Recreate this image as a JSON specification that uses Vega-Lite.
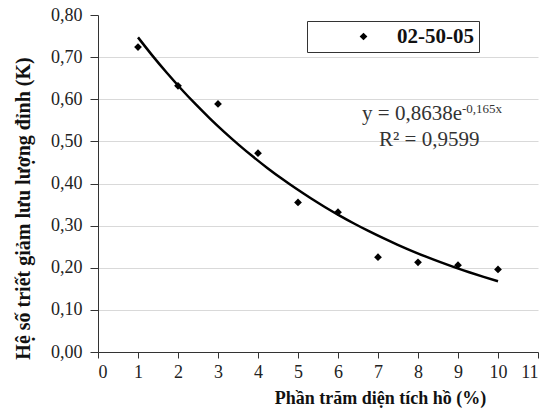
{
  "$schema": "https://vega.github.io/schema/vega-lite/v6.json",
  "width": 440,
  "height": 337,
  "autosize": {"type": "none"},
  "padding": {"left": 98, "top": 15, "right": 20, "bottom": 58},
  "background": "white",
  "config": {
    "view": {"stroke": null},
    "font": "Liberation Serif",
    "axis": {
      "labelFont": "Liberation Serif",
      "titleFont": "Liberation Serif",
      "labelColor": "#222",
      "titleColor": "#111",
      "domainColor": "#333",
      "tickColor": "#333",
      "gridColor": "#d9d9d9",
      "labelFontSize": 18,
      "titleFontSize": 18,
      "titleFontWeight": "bold",
      "labelOverlap": false
    }
  },
  "data": {
    "values": [
      {"x": 1, "k": 0.724, "series": "02-50-05"},
      {"x": 2, "k": 0.632, "series": "02-50-05"},
      {"x": 3, "k": 0.589, "series": "02-50-05"},
      {"x": 4, "k": 0.472, "series": "02-50-05"},
      {"x": 5, "k": 0.355, "series": "02-50-05"},
      {"x": 6, "k": 0.332, "series": "02-50-05"},
      {"x": 7, "k": 0.225, "series": "02-50-05"},
      {"x": 8, "k": 0.213, "series": "02-50-05"},
      {"x": 9, "k": 0.206, "series": "02-50-05"},
      {"x": 10, "k": 0.196, "series": "02-50-05"}
    ]
  },
  "layer": [
    {
      "mark": {"type": "point", "shape": "diamond", "filled": true, "size": 60, "opacity": 1},
      "encoding": {
        "x": {
          "field": "x", "type": "quantitative",
          "scale": {"domain": [0, 11], "nice": false},
          "axis": {"values": [0,1,2,3,4,5,6,7,8,9,10,11], "tickCount": 30, "format": "d", "labelOverlap": false, "grid": false, "tickSize": 6, "labelPadding": 5, "title": "Phần trăm diện tích hồ (%)", "titleX": 282, "titleY": 46, "titleAlign": "center", "titleBaseline": "middle"}
        },
        "y": {
          "field": "k", "type": "quantitative",
          "scale": {"domain": [0, 0.8], "nice": false},
          "axis": {"values": [0, 0.1, 0.2, 0.3, 0.4, 0.5, 0.6, 0.7, 0.8], "tickCount": 30, "labelExpr": "replace(format(datum.value, '.2f'), '.', ',')", "labelOverlap": false, "grid": true, "gridOpacity": {"condition": {"test": "datum.value > 0.75", "value": 0}, "value": 1}, "tickSize": 8, "labelPadding": 8, "title": "Hệ số triết giảm lưu lượng đỉnh (K)", "titleFontSize": 20, "titleX": -75, "titleY": 193, "titleAngle": 270, "titleAlign": "center", "titleBaseline": "middle"}
        },
        "color": {
          "field": "series", "type": "nominal",
          "scale": {"range": ["black"]},
          "legend": {
            "title": null,
            "orient": "none",
            "legendX": 209,
            "legendY": 6,
            "padding": 5,
            "strokeColor": "#333",
            "symbolType": "diamond",
            "symbolSize": 60,
            "symbolOffset": 41,
            "labelOffset": 23,
            "labelFont": "Liberation Serif",
            "labelFontSize": 21,
            "labelFontWeight": "bold",
            "labelColor": "#111",
            "labelExpr": "datum.label + '  '",
            "encode": {"legend": {"update": {"strokeWidth": {"value": 1.5}}}}
          }
        }
      }
    },
    {
      "transform": [
        {"regression": "k", "on": "x", "method": "exp", "extent": [1, 10]}
      ],
      "mark": {"type": "line", "color": "black", "strokeWidth": 2.5, "interpolate": "monotone"},
      "encoding": {
        "x": {"field": "x", "type": "quantitative",
          "axis": {"values": [0,1,2,3,4,5,6,7,8,9,10,11], "tickCount": 30, "format": "d", "labelOverlap": false, "grid": false, "tickSize": 6, "labelPadding": 5, "title": "Phần trăm diện tích hồ (%)", "titleX": 282, "titleY": 46, "titleAlign": "center", "titleBaseline": "middle"}},
        "y": {"field": "k", "type": "quantitative",
          "axis": {"values": [0, 0.1, 0.2, 0.3, 0.4, 0.5, 0.6, 0.7, 0.8], "tickCount": 30, "labelExpr": "replace(format(datum.value, '.2f'), '.', ',')", "labelOverlap": false, "grid": true, "gridOpacity": {"condition": {"test": "datum.value > 0.75", "value": 0}, "value": 1}, "tickSize": 8, "labelPadding": 8, "title": "Hệ số triết giảm lưu lượng đỉnh (K)", "titleFontSize": 20, "titleX": -75, "titleY": 193, "titleAngle": 270, "titleAlign": "center", "titleBaseline": "middle"}}
      }
    },
    {
      "data": {"values": [{"t": "y = 0,8638e"}]},
      "mark": {"type": "text", "align": "right", "baseline": "alphabetic", "fontSize": 21, "fontWeight": "normal", "font": "Liberation Serif", "fill": "#333"},
      "encoding": {
        "x": {"datum": 9.1, "type": "quantitative",
          "axis": {"values": [0,1,2,3,4,5,6,7,8,9,10,11], "tickCount": 30, "format": "d", "labelOverlap": false, "grid": false, "tickSize": 6, "labelPadding": 5, "title": "Phần trăm diện tích hồ (%)", "titleX": 282, "titleY": 46, "titleAlign": "center", "titleBaseline": "middle"}},
        "y": {"datum": 0.551, "type": "quantitative",
          "axis": {"values": [0, 0.1, 0.2, 0.3, 0.4, 0.5, 0.6, 0.7, 0.8], "tickCount": 30, "labelExpr": "replace(format(datum.value, '.2f'), '.', ',')", "labelOverlap": false, "grid": true, "gridOpacity": {"condition": {"test": "datum.value > 0.75", "value": 0}, "value": 1}, "tickSize": 8, "labelPadding": 8, "title": "Hệ số triết giảm lưu lượng đỉnh (K)", "titleFontSize": 20, "titleX": -75, "titleY": 193, "titleAngle": 270, "titleAlign": "center", "titleBaseline": "middle"}},
        "text": {"field": "t"}
      }
    },
    {
      "data": {"values": [{"t": "-0,165x"}]},
      "mark": {"type": "text", "align": "left", "baseline": "alphabetic", "fontSize": 13, "fontWeight": "normal", "font": "Liberation Serif", "fill": "#333"},
      "encoding": {
        "x": {"datum": 9.1, "type": "quantitative",
          "axis": {"values": [0,1,2,3,4,5,6,7,8,9,10,11], "tickCount": 30, "format": "d", "labelOverlap": false, "grid": false, "tickSize": 6, "labelPadding": 5, "title": "Phần trăm diện tích hồ (%)", "titleX": 282, "titleY": 46, "titleAlign": "center", "titleBaseline": "middle"}},
        "y": {"datum": 0.567, "type": "quantitative",
          "axis": {"values": [0, 0.1, 0.2, 0.3, 0.4, 0.5, 0.6, 0.7, 0.8], "tickCount": 30, "labelExpr": "replace(format(datum.value, '.2f'), '.', ',')", "labelOverlap": false, "grid": true, "gridOpacity": {"condition": {"test": "datum.value > 0.75", "value": 0}, "value": 1}, "tickSize": 8, "labelPadding": 8, "title": "Hệ số triết giảm lưu lượng đỉnh (K)", "titleFontSize": 20, "titleX": -75, "titleY": 193, "titleAngle": 270, "titleAlign": "center", "titleBaseline": "middle"}},
        "text": {"field": "t"}
      }
    },
    {
      "data": {"values": [{"t": "R² = 0,9599"}]},
      "mark": {"type": "text", "align": "center", "baseline": "alphabetic", "fontSize": 21, "fontWeight": "normal", "font": "Liberation Serif", "fill": "#333"},
      "encoding": {
        "x": {"datum": 8.28, "type": "quantitative",
          "axis": {"values": [0,1,2,3,4,5,6,7,8,9,10,11], "tickCount": 30, "format": "d", "labelOverlap": false, "grid": false, "tickSize": 6, "labelPadding": 5, "title": "Phần trăm diện tích hồ (%)", "titleX": 282, "titleY": 46, "titleAlign": "center", "titleBaseline": "middle"}},
        "y": {"datum": 0.489, "type": "quantitative",
          "axis": {"values": [0, 0.1, 0.2, 0.3, 0.4, 0.5, 0.6, 0.7, 0.8], "tickCount": 30, "labelExpr": "replace(format(datum.value, '.2f'), '.', ',')", "labelOverlap": false, "grid": true, "gridOpacity": {"condition": {"test": "datum.value > 0.75", "value": 0}, "value": 1}, "tickSize": 8, "labelPadding": 8, "title": "Hệ số triết giảm lưu lượng đỉnh (K)", "titleFontSize": 20, "titleX": -75, "titleY": 193, "titleAngle": 270, "titleAlign": "center", "titleBaseline": "middle"}},
        "text": {"field": "t"}
      }
    }
  ]
}
